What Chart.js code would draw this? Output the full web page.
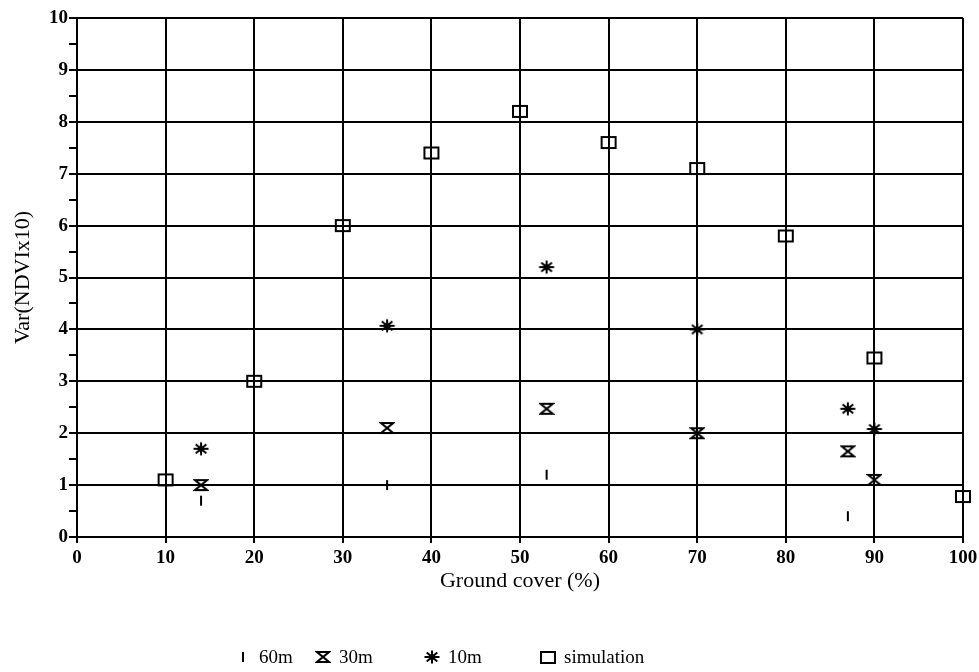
<!DOCTYPE html>
<html>
<head>
<meta charset="utf-8">
<script src="https://cdn.jsdelivr.net/npm/chart.js@4.4.1/dist/chart.umd.min.js"></script>
<style>
  html, body { margin: 0; padding: 0; background: #fff; }
  #wrap { width: 979px; height: 672px; }
</style>
</head>
<body>
<div id="wrap"><canvas id="chart"></canvas></div>
<script>
// ground cover (%) and Var(NDVIx10) per pixel size
const cover60 = [14, 35, 53, 87];
const var60 = [0.7, 1.0, 1.2, 0.4];
const cover30 = [14, 35, 53, 70, 87, 90];
const var30 = [1.0, 2.1, 2.47, 2.0, 1.65, 1.1];
const cover10 = [14, 35, 53, 70, 87, 90];
const var10 = [1.7, 4.07, 5.2, 4.0, 2.47, 2.08];
const coverSim = [10, 20, 30, 40, 50, 60, 70, 80, 90, 100];
const varSim = [1.1, 3.0, 6.0, 7.4, 8.2, 7.6, 7.1, 5.8, 3.45, 0.78];
const seriesLabels = ["60m", "30m", "10m", "simulation"];

const SERIF = "'Liberation Serif', 'Times New Roman', serif";

function pts(xs, ys) {
  return xs.map((x, i) => ({ x: x, y: ys[i] }));
}

function marker(w, h, draw) {
  const c = document.createElement("canvas");
  c.width = w;
  c.height = h;
  const g = c.getContext("2d");
  g.strokeStyle = "#000";
  g.fillStyle = "#000";
  draw(g, w, h);
  return c;
}

const barMark = marker(4, 12, (g) => {
  g.fillRect(1, 1, 2, 10);
});

const glassMark = marker(16, 14, (g) => {
  g.lineWidth = 2;
  g.beginPath();
  g.moveTo(2, 2);
  g.lineTo(14, 2);
  g.lineTo(2, 12);
  g.lineTo(14, 12);
  g.closePath();
  g.stroke();
});

const starMark = marker(18, 18, (g) => {
  g.lineWidth = 2;
  g.beginPath();
  for (let k = 0; k < 4; k++) {
    const a = (k * Math.PI) / 4;
    const dx = Math.cos(a) * 7.5, dy = Math.sin(a) * 6.5;
    g.moveTo(9 - dx, 9 - dy);
    g.lineTo(9 + dx, 9 + dy);
  }
  g.stroke();
  g.beginPath();
  g.arc(9, 9, 3, 0, Math.PI * 2);
  g.fill();
});

const squareMark = marker(18, 15, (g) => {
  g.lineWidth = 2;
  g.strokeRect(2, 2, 14, 11);
});

const marks = [barMark, glassMark, starMark, squareMark];

// legend row under the axis title
const legendRow = {
  id: "legendRow",
  afterDraw(chart) {
    const ctx = chart.ctx;
    const xs = [243, 323, 432, 548];
    const y = 657;
    ctx.save();
    ctx.font = "19px " + SERIF;
    ctx.fillStyle = "#000";
    ctx.textBaseline = "middle";
    chart.data.datasets.forEach((ds, i) => {
      const m = marks[i];
      ctx.drawImage(m, Math.round(xs[i] - m.width / 2), Math.round(y - m.height / 2));
      ctx.fillText(ds.label, xs[i] + 16, y + 1);
    });
    ctx.restore();
  },
};

const chart = new Chart(document.getElementById("chart"), {
  type: "scatter",
  data: {
    datasets: [
      { label: seriesLabels[0], data: pts(cover60, var60), pointStyle: barMark },
      { label: seriesLabels[1], data: pts(cover30, var30), pointStyle: glassMark },
      { label: seriesLabels[2], data: pts(cover10, var10), pointStyle: starMark },
      { label: seriesLabels[3], data: pts(coverSim, varSim), pointStyle: squareMark },
    ].map((d) => Object.assign(d, { clip: false, showLine: false, pointRadius: 6 })),
  },
  options: {
    responsive: true,
    maintainAspectRatio: false,
    animation: false,
    layout: { padding: { left: 0, top: 18, right: 16, bottom: 78 } },
    plugins: {
      legend: { display: false },
      tooltip: { enabled: false },
    },
    scales: {
      x: {
        type: "linear",
        min: 0,
        max: 100,
        afterFit: (s) => {
          s.height = 57;
          s.paddingLeft = 0;
          s.paddingRight = 0;
        },
        ticks: {
          stepSize: 10,
          autoSkip: false,
          maxRotation: 0,
          padding: 4,
          color: "#000",
          font: { family: SERIF, size: 19, weight: "bold" },
        },
        grid: { color: "#000", lineWidth: 2, tickLength: 6, tickColor: "#000" },
        border: { color: "#000", width: 2 },
        title: {
          display: true,
          text: "Ground cover (%)",
          color: "#000",
          padding: { top: 0, bottom: 0 },
          font: { family: SERIF, size: 22 },
        },
      },
      y: {
        type: "linear",
        min: 0,
        max: 10,
        afterFit: (s) => {
          s.width = 77;
          s.paddingTop = 0;
          s.paddingBottom = 0;
        },
        ticks: {
          stepSize: 0.5,
          autoSkip: false,
          padding: 1,
          color: "#000",
          font: { family: SERIF, size: 19, weight: "bold" },
          callback: (v) => (Number.isInteger(v) ? v : ""),
        },
        grid: {
          lineWidth: 2,
          tickLength: 8,
          tickColor: "#000",
          color: (c) => (c.tick && Number.isInteger(c.tick.value) ? "#000" : "rgba(0,0,0,0)"),
        },
        border: { color: "#000", width: 2 },
        title: {
          display: true,
          text: "Var(NDVIx10)",
          color: "#000",
          padding: { top: 10 },
          font: { family: SERIF, size: 22 },
        },
      },
    },
  },
  plugins: [legendRow],
});
</script>
</body>
</html>
